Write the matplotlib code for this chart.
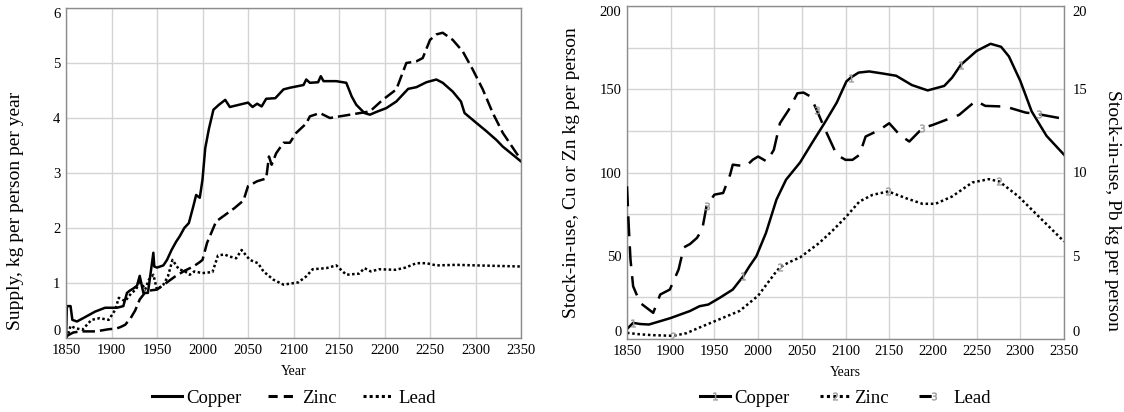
import numpy as np
import matplotlib
matplotlib.use('Agg')
import matplotlib.pyplot as plt
from matplotlib.lines import Line2D
from matplotlib.ticker import MultipleLocator

plt.rcParams['font.family'] = ['Liberation Serif', 'DejaVu Serif']

# ---- left panel: supply, kg per person per year ----
cu_years = [1850, 1851, 1855, 1857, 1862, 1871, 1882, 1893, 1906, 1913,
            1917, 1920, 1924, 1928, 1931, 1935, 1940, 1943, 1946, 1947,
            1950, 1957, 1961, 1966, 1971, 1975, 1980, 1985, 1990, 1993,
            1997, 2000, 2003, 2007, 2012, 2018, 2025, 2030, 2040, 2050,
            2055, 2060, 2065, 2070, 2080, 2089, 2096, 2111, 2114, 2118,
            2127, 2130, 2133, 2147, 2158, 2164, 2169, 2178, 2184, 2191,
            2202, 2213, 2226, 2235, 2246, 2257, 2264, 2275, 2284, 2288,
            2301, 2312, 2323, 2330, 2350]
cu_supply = [0.0, 0.58, 0.58, 0.33, 0.3, 0.38, 0.48, 0.55, 0.55, 0.58,
             0.82, 0.86, 0.9, 0.95, 1.13, 0.82, 0.82, 1.18, 1.55, 1.3,
             1.28, 1.32, 1.42, 1.6, 1.75, 1.85, 2.0, 2.09, 2.4, 2.6,
             2.55, 2.88, 3.45, 3.8, 4.15, 4.24, 4.33, 4.2, 4.24, 4.28,
             4.2, 4.26, 4.21, 4.35, 4.36, 4.52, 4.55, 4.6, 4.7, 4.64,
             4.65, 4.76, 4.67, 4.67, 4.64, 4.39, 4.24, 4.09, 4.06, 4.11,
             4.18, 4.3, 4.53, 4.56, 4.65, 4.7, 4.64, 4.48, 4.3, 4.09,
             3.91, 3.76, 3.6, 3.48, 3.21]

zn_years = [1850, 1858, 1866, 1882, 1890, 1897, 1905, 1910, 1915, 1921,
            1926, 1931, 1938, 1945, 1950, 1960, 1970, 1980, 1990, 1997,
            2000, 2005, 2015, 2025, 2035, 2045, 2050, 2060, 2070, 2073,
            2076, 2081, 2089, 2096, 2103, 2114, 2118, 2129, 2140, 2162,
            2184, 2198, 2213, 2224, 2235, 2242, 2250, 2257, 2264, 2275,
            2286, 2297, 2308, 2319, 2330, 2345, 2350]
zn_supply = [0.03, 0.1, 0.12, 0.12, 0.14, 0.16, 0.17, 0.2, 0.24, 0.36,
             0.5, 0.7, 0.85, 0.87, 0.88, 1.0, 1.12, 1.22, 1.3, 1.38,
             1.42, 1.73, 2.12, 2.24, 2.36, 2.5, 2.76, 2.85, 2.9, 3.3,
             3.15, 3.36, 3.55, 3.55, 3.73, 3.9, 4.03, 4.09, 4.0, 4.06,
             4.12, 4.33, 4.52, 5.0, 5.03, 5.09, 5.42, 5.52, 5.55, 5.42,
             5.21, 4.88, 4.52, 4.09, 3.73, 3.36, 3.24]

pb_years = [1850, 1852, 1855, 1860, 1868, 1878, 1887, 1897, 1904, 1908,
            1915, 1922, 1927, 1931, 1937, 1941, 1946, 1950, 1957, 1962,
            1967, 1974, 1980, 1986, 1991, 2000, 2011, 2017, 2024, 2030,
            2037, 2043, 2052, 2061, 2067, 2078, 2089, 2105, 2114, 2121,
            2136, 2147, 2158, 2172, 2178, 2185, 2194, 2212, 2223, 2235,
            2246, 2257, 2279, 2301, 2350]
pb_supply = [0.0, 0.05, 0.22, 0.18, 0.15, 0.33, 0.36, 0.33, 0.51, 0.73,
             0.67, 0.82, 0.88, 1.05, 0.88, 1.06, 1.15, 0.88, 0.97, 1.12,
             1.42, 1.25, 1.22, 1.15, 1.21, 1.18, 1.2, 1.5, 1.52, 1.48,
             1.45, 1.6, 1.42, 1.36, 1.21, 1.06, 0.97, 1.01, 1.12, 1.25,
             1.27, 1.32, 1.15, 1.17, 1.27, 1.21, 1.25, 1.24, 1.28, 1.36,
             1.36, 1.32, 1.33, 1.32, 1.3]

# ---- right panel: stock-in-use, kg per person ----
cu_s_years = [1850, 1857, 1865, 1875, 1888, 1900, 1911, 1922, 1933, 1943,
              1956, 1971, 1983, 1990, 1998, 2009, 2021, 2032, 2048, 2062,
              2076, 2090, 2101, 2106, 2115, 2127, 2142, 2158, 2176, 2194,
              2213, 2222, 2232, 2250, 2266, 2278, 2287, 2300, 2313, 2330,
              2350]
cu_stock = [6, 9.7, 9.0, 8.7, 10.7, 12.6, 14.7, 16.8, 19.7, 20.7,
            24.7, 29.7, 37.7, 43.6, 49.7, 63.7, 83.7, 95.7, 106, 118,
            129.7, 142, 154.7, 157, 160, 160.7, 159.5, 158.1, 152.5, 149.3,
            152, 157, 164.7, 173, 177.3, 175.5, 169.7, 155, 136.7, 122,
            110.7]

zn_s_years = [1850, 1865, 1880, 1903, 1918, 1933, 1956, 1979, 2000, 2010,
              2020, 2025, 2035, 2048, 2070, 2085, 2100, 2116, 2131, 2149,
              2169, 2188, 2203, 2222, 2245, 2264, 2276, 2298, 2321, 2350]
zn_stock = [3.7, 2.8, 2.3, 1.9, 3.5, 6.9, 11.9, 16.9, 26, 33,
            40, 43, 46, 49, 57.7, 65, 73, 82.6, 86.6, 88.6,
            84.6, 81.2, 81.2, 85.6, 94, 96, 94.6, 85.6, 73.6, 58.6]

# lead on the right axis (Pb kg per person)
pb_s_years = [1850, 1852, 1854, 1857, 1865, 1880, 1888, 1899, 1909, 1915,
              1922, 1930, 1936, 1941, 1950, 1960, 1968, 1971, 1986, 1994,
              2000, 2010, 2018, 2025, 2035, 2045, 2052, 2060, 2067, 2076,
              2090, 2100, 2108, 2116, 2123, 2139, 2150, 2162, 2173, 2188,
              2200, 2215, 2230, 2249, 2260, 2283, 2306, 2321, 2350]
pb_stock = [9.17, 6.77, 4.77, 3.17, 2.17, 1.57, 2.67, 2.97, 4.17, 5.5,
            5.7, 6.07, 6.57, 7.97, 8.67, 8.77, 9.87, 10.47, 10.37, 10.77,
            10.96, 10.66, 11.36, 12.96, 13.76, 14.76, 14.8, 14.56, 13.76, 12.66,
            11.06, 10.76, 10.76, 11.06, 12.16, 12.56, 12.96, 12.26, 11.86, 12.66,
            12.86, 13.16, 13.46, 14.3, 14.0, 13.96, 13.6, 13.5, 13.22]

# years where the Vensim style series numbers sit on the curves
cu_mark_years = [1857, 1983, 2106, 2232]
zn_mark_years = [1903, 2025, 2149, 2276]
pb_mark_years = [1941, 2067, 2188, 2321]

xticks = list(range(1850, 2351, 50))

W, H = 1124, 412
fig = plt.figure(figsize=(W / 100, H / 100), dpi=100)

grid_c = '#d4d4d4'
spine_c = '#8c8c8c'
tick_fs = 10.5
lab_fs = 14
leg_fs = 13.5
lw = 1.8


def style_axes(ax):
    ax.set_xlim(1850, 2350)
    ax.set_xticks(xticks)
    ax.grid(True, which='both', color=grid_c, lw=1)
    ax.set_axisbelow(True)
    for s in ax.spines.values():
        s.set_color(spine_c)
        s.set_linewidth(1)
    ax.tick_params(length=0, labelsize=tick_fs, pad=4)


def nudge_end_labels(ax):
    labs = ax.get_yticklabels()
    labs[0].set_va('bottom')
    labs[-1].set_va('top')


# ---------------- left panel ----------------
ax1 = fig.add_axes([66 / W, 1 - 338 / H, (521 - 66) / W, (338 - 8) / H])
style_axes(ax1)
ax1.set_ylim(0, 6)
ax1.set_yticks(range(0, 7))
ax1.plot(cu_years, cu_supply, color='black', lw=lw, solid_joinstyle='round')
ax1.plot(zn_years, zn_supply, color='black', lw=lw, dashes=(5, 2), dash_capstyle='butt')
ax1.plot(pb_years, pb_supply, color='black', lw=lw, dashes=(1, 1), dash_capstyle='butt')
nudge_end_labels(ax1)
ax1.set_xlabel('Year', fontsize=10, labelpad=6)
ax1.set_ylabel('Supply, kg per person per year', fontsize=lab_fs)
ax1.yaxis.set_label_coords(-0.092, 0.385)

h1 = [Line2D([], [], color='black', lw=2.2),
      Line2D([], [], color='black', lw=2.2, dashes=(3, 2)),
      Line2D([], [], color='black', lw=2.2, dashes=(1, 1))]
fig.legend(h1, ['Copper', 'Zinc', 'Lead'], loc='center',
           bbox_to_anchor=((66 + 521) / 2 / W, 1 - 398 / H), ncol=3,
           frameon=False, fontsize=leg_fs, handlelength=1.6,
           handletextpad=0.25, columnspacing=1.4, borderpad=0)

# ---------------- right panel ----------------
ax2 = fig.add_axes([627 / W, 1 - 339 / H, (1064 - 627) / W, (339 - 6) / H])
style_axes(ax2)
ax2.set_ylim(0, 200)
ax2.set_yticks(range(0, 201, 50))
ax2.yaxis.set_minor_locator(MultipleLocator(25))
ax2.tick_params(which='minor', length=0)
nudge_end_labels(ax2)


def idx_of(years, marks):
    y = np.array(years)
    return [int(np.argmin(np.abs(y - m))) for m in marks]


mk = dict(markersize=5.5, markerfacecolor='#9a9a9a', markeredgecolor='#9a9a9a',
          markeredgewidth=0.3)
ax2.plot(cu_s_years, cu_stock, color='black', lw=lw, marker='$1$',
         markevery=idx_of(cu_s_years, cu_mark_years), **mk)
ax2.plot(zn_s_years, zn_stock, color='black', lw=lw, dashes=(1, 1.1),
         dash_capstyle='butt', marker='$2$',
         markevery=idx_of(zn_s_years, zn_mark_years), **mk)

ax3 = ax2.twinx()
ax3.set_ylim(0, 20)
ax3.set_yticks(range(0, 21, 5))
ax3.tick_params(length=0, labelsize=tick_fs, pad=6)
for s in ax3.spines.values():
    s.set_visible(False)
ax3.plot(pb_s_years, pb_stock, color='black', lw=lw, dashes=(8, 4),
         dash_capstyle='butt', marker='$3$',
         markevery=idx_of(pb_s_years, pb_mark_years), **mk)
nudge_end_labels(ax3)

ax2.set_xlabel('Years', fontsize=10, labelpad=6)
ax2.set_ylabel('Stock-in-use, Cu or Zn kg per person', fontsize=lab_fs)
ax2.yaxis.set_label_coords(-0.108, 0.5)
ax3.set_ylabel('Stock-in-use, Pb kg per person', fontsize=lab_fs, rotation=270,
               va='center')
ax3.yaxis.set_label_coords(1.11, 0.387)

h2 = [Line2D([], [], color='black', lw=2.2, marker='$1$', **mk),
      Line2D([], [], color='black', lw=2.2, dashes=(1, 1.1), marker='$2$', **mk),
      Line2D([], [], color='black', lw=2.2, dashes=(4, 8), marker='$3$', **mk)]
fig.legend(h2, ['Copper', 'Zinc', 'Lead'], loc='center',
           bbox_to_anchor=((627 + 1064) / 2 / W, 1 - 398 / H), ncol=3,
           frameon=False, fontsize=leg_fs, handlelength=1.6, numpoints=1,
           handletextpad=0.25, columnspacing=1.6, borderpad=0)

fig.savefig('out.png', dpi=100)
